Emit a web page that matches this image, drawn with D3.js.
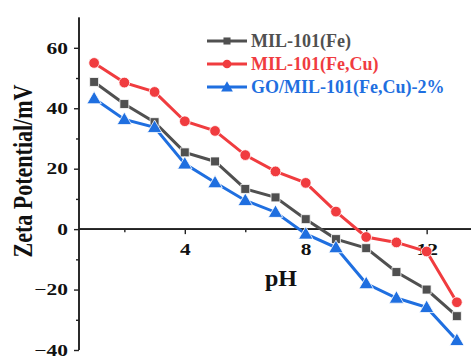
<!DOCTYPE html>
<html>
<head>
<meta charset="utf-8">
<script src="https://cdn.jsdelivr.net/npm/d3@7"></script>
<style>
  html, body { margin: 0; padding: 0; background: #fff; }
  svg { display: block; font-family: "Liberation Serif", "Times New Roman", serif; font-weight: bold; }
</style>
</head>
<body>
<svg id="chart" width="471" height="356"></svg>
<script>
// pH values and measured zeta potentials (mV)
const pH = [1, 2, 3, 4, 5, 6, 7, 8, 9, 10, 11, 12, 13];
const milFe = [48.7, 41.4, 35.4, 25.4, 22.4, 13.3, 10.5, 3.3, -3.3, -6.3, -14.2, -20.0, -28.8];
const milFeCu = [55.0, 48.5, 45.4, 35.7, 32.5, 24.5, 19.1, 15.3, 5.8, -2.6, -4.4, -7.4, -24.2];
const goMil = [43.2, 36.3, 33.7, 21.6, 15.4, 9.5, 5.6, -1.6, -6.1, -18.0, -22.8, -25.9, -36.8];

const seriesNames = ["MIL-101(Fe)", "MIL-101(Fe,Cu)", "GO/MIL-101(Fe,Cu)-2%"];
const seriesColors = ["#505050", "#f03c3f", "#1f6fe0"];
const seriesSymbols = [d3.symbolSquare, d3.symbolCircle, d3.symbolTriangle];
const seriesValues = [milFe, milFeCu, goMil];

const xTickMajor = [4, 8, 12];
const xTickMinor = [2, 6, 10];
const yTickMajor = [-40, -20, 0, 20, 40, 60];
const yTickMinor = [-30, -10, 10, 30, 50];

const svg = d3.select("#chart");
const x = d3.scaleLinear().domain([0.5, 13.5]).range([79, 472]);
const y = d3.scaleLinear().domain([-40, 70]).range([350, 17.6]);

const axisColor = "#222";
const wide = 1.3; // horizontal stretch of the axis lettering

// Left (y) axis
const yAxis = svg.append("g").attr("transform", `translate(${x(0.5)},0)`);
yAxis.call(d3.axisLeft(y).tickValues(yTickMajor).tickSize(5).tickFormat(d3.format("d")));
yAxis.append("g").call(d3.axisLeft(y).tickValues(yTickMinor).tickSize(3).tickFormat(""));
yAxis.selectAll(".domain").attr("stroke", axisColor).attr("stroke-width", 1.6).attr("d", `M0,${y(70)}V${y(-40)}`);
yAxis.selectAll(".tick line").attr("stroke", axisColor).attr("stroke-width", 1.4);
yAxis.selectAll(".tick text")
  .attr("font-size", 16.5).attr("font-weight", "bold").attr("fill", "#111")
  .attr("font-family", "Liberation Serif, serif")
  .attr("x", -11 / wide)
  .attr("transform", `scale(${wide},1)`);

// Bottom (x) axis along zero
const xAxis = svg.append("g").attr("transform", `translate(0,${y(0)})`);
xAxis.call(d3.axisBottom(x).tickValues(xTickMajor).tickSize(5).tickPadding(9).tickFormat(d3.format("d")));
xAxis.append("g").call(d3.axisBottom(x).tickValues(xTickMinor).tickSize(3).tickFormat(""));
xAxis.selectAll(".domain").attr("stroke", axisColor).attr("stroke-width", 1.6).attr("d", `M${x(0.5)},0H471`);
xAxis.selectAll(".tick line").attr("stroke", axisColor).attr("stroke-width", 1.4);
xAxis.selectAll(".tick text")
  .attr("font-size", 16.5).attr("font-weight", "bold").attr("fill", "#111")
  .attr("font-family", "Liberation Serif, serif")
  .attr("transform", `scale(${wide},1)`);

// Axis titles
svg.append("text")
  .attr("x", 281).attr("y", 286)
  .attr("text-anchor", "middle")
  .attr("font-size", 24).attr("fill", "#111")
  .text("pH");

svg.append("text")
  .attr("transform", `translate(31.5,171) scale(1.27,1) rotate(-90)`)
  .attr("text-anchor", "middle")
  .attr("font-size", 22).attr("fill", "#111")
  .text("Zeta Potential/mV");

// Series lines and markers
const line = d3.line().x((d, i) => x(pH[i])).y(d => y(d));
seriesValues.forEach((vals, s) => {
  const g = svg.append("g");
  g.append("path")
    .datum(vals)
    .attr("fill", "none")
    .attr("stroke", seriesColors[s])
    .attr("stroke-width", 3)
    .attr("d", line);
  const size = [80, 90, 90][s];
  g.selectAll("path.m")
    .data(vals)
    .join("path")
    .attr("class", "m")
    .attr("transform", (d, i) => `translate(${x(pH[i])},${y(d) + (s === 2 ? 1 : 0)})`)
    .attr("d", d3.symbol().type(seriesSymbols[s]).size(size))
    .attr("fill", seriesColors[s])
    .attr("stroke", "#fff")
    .attr("stroke-width", 0.8);
});

// Legend
const legend = svg.append("g");
seriesNames.forEach((name, s) => {
  const ly = 41 + s * 23;
  const row = legend.append("g").attr("transform", `translate(0,${ly})`);
  row.append("line")
    .attr("x1", 207).attr("x2", 247)
    .attr("stroke", seriesColors[s]).attr("stroke-width", 3);
  row.append("path")
    .attr("transform", `translate(227,${s === 2 ? 1 : 0})`)
    .attr("d", d3.symbol().type(seriesSymbols[s]).size([50, 60, 60][s]))
    .attr("fill", seriesColors[s]);
  row.append("text")
    .attr("x", 251).attr("y", 6)
    .attr("font-size", 18)
    .attr("fill", seriesColors[s])
    .text(name);
});
</script>
</body>
</html>
